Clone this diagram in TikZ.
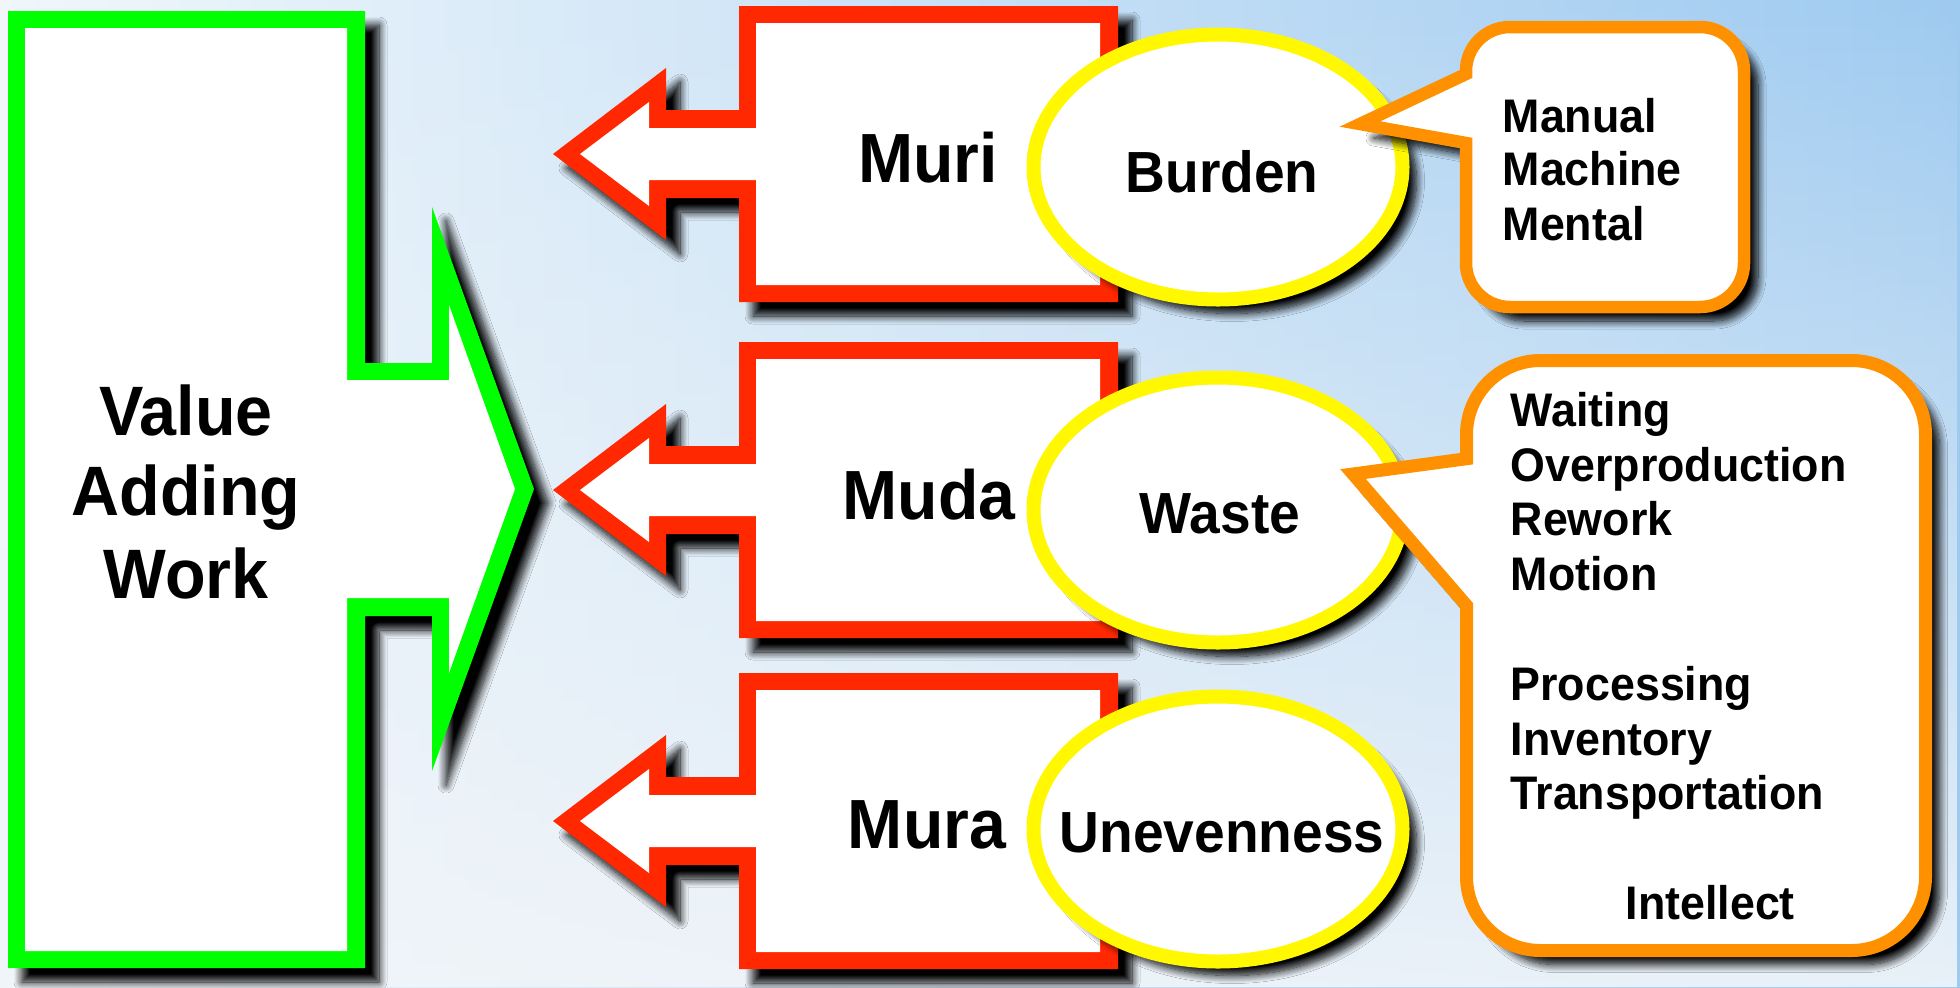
\documentclass[tikz,border=0pt]{standalone}
\usepackage{fontspec}
\newfontfamily\lab{Liberation Sans}[FakeStretch=0.95]
\usetikzlibrary{shadows.blur,fadings}

\definecolor{vgreen}{RGB}{0,255,0}
\definecolor{mred}{RGB}{255,40,0}
\definecolor{myellow}{RGB}{255,248,0}
\definecolor{morange}{RGB}{255,145,0}
\definecolor{bgleft}{RGB}{240,247,251}
\definecolor{bgmid}{RGB}{210,236,248}
\definecolor{bgright}{RGB}{158,202,240}
\definecolor{bgbottom}{RGB}{241,245,249}

\tikzfading[name=fadeup, top color=transparent!100, bottom color=transparent!10]

\tikzset{
  dropsh/.style={blur shadow={shadow xshift=0.14cm, shadow yshift=-0.14cm,
      shadow blur radius=0.08cm, shadow blur steps=12, shadow opacity=100}},
  oval/.style={draw=myellow, fill=white, line width=0.14cm, dropsh},
  callout/.style={draw=morange, fill=white, line width=0.13cm, dropsh},
  vaw/.style={font=\lab\bfseries\fontsize{19.9pt}{23pt}\selectfont, inner sep=0pt, anchor=base},
  mu/.style={font=\lab\bfseries\fontsize{19.8pt}{23pt}\selectfont, inner sep=0pt, anchor=base},
  ovtext/.style={font=\lab\bfseries\fontsize{16.5pt}{19pt}\selectfont, inner sep=0pt, anchor=base},
  item/.style={font=\lab\bfseries\fontsize{13.4pt}{15.5pt}\selectfont, inner sep=0pt, anchor=base west},
}

\begin{document}
\begin{tikzpicture}[x=0.01cm, y=-0.01cm]
\useasboundingbox (0,0) rectangle (1960,987);

% background
\fill[left color=bgleft, middle color=bgmid, right color=bgright] (0,0) rectangle (1960,987);
\fill[bgbottom, path fading=fadeup] (0,0) rectangle (1960,987);

% value adding work: box with a right-pointing arrow
\fill[vgreen, dropsh] (8,11) -- (365,11) -- (365,363) -- (432,363) -- (432,207)
  -- (534,489) -- (432,771) -- (432,616) -- (365,616) -- (365,968) -- (8,968) -- cycle;
\fill[white] (25,28) -- (347,28) -- (347,380) -- (449,380) -- (449,305)
  -- (515,489) -- (449,673) -- (449,598) -- (347,598) -- (347,951) -- (25,951) -- cycle;

% the three left-pointing arrows
\foreach \yc in {154,490,821}{
  \begin{scope}[shift={(0,\yc)}]
    \fill[mred, dropsh] (739,-148) -- (1118,-148) -- (1118,148) -- (739,148) -- (739,44)
      -- (666,44) -- (666,86) -- (553,0) -- (666,-86) -- (666,-44) -- (739,-44) -- cycle;
    \fill[white] (756,-131) -- (1100,-131) -- (1100,131) -- (756,131) -- (756,26)
      -- (649,26) -- (649,52) -- (580,0) -- (649,-52) -- (649,-26) -- (756,-26) -- cycle;
  \end{scope}
}

% ovals
\foreach \yc in {167,510,829}{
  \draw[oval] (1218,\yc) ellipse [x radius=184.5, y radius=132.5];
}

% speech bubbles
\draw[callout, line width=0.125cm] (1360,124) -- (1466,74) -- (1466,71)
  arc[start angle=180, end angle=270, radius=44] -- (1700,27)
  arc[start angle=270, end angle=360, radius=44] -- (1744,263)
  arc[start angle=0, end angle=90, radius=44] -- (1510,307)
  arc[start angle=90, end angle=180, radius=44] -- (1466,143) -- cycle;

\draw[callout] (1353,474) -- (1466.5,458.7) -- (1466.5,434.5)
  arc[start angle=180, end angle=270, radius=74] -- (1851.5,360.5)
  arc[start angle=270, end angle=360, radius=74] -- (1925.5,876.5)
  arc[start angle=0, end angle=90, radius=74] -- (1540.5,950.5)
  arc[start angle=90, end angle=180, radius=74] -- (1466.5,605.5) -- cycle;

% labels
\node[vaw] (v1) at (186,435) {Value};
\node[vaw] (v2) at (186,515) {Adding};
\node[vaw] (v3) at (186,598) {Work};

\node[mu] (muri) at (928,182) {Muri};
\node[mu] (muda) at (929,519) {Muda};
\node[mu] (mura) at (927,848) {Mura};

\node[ovtext] (burden) at (1222,192) {Burden};
\node[ovtext] (waste) at (1220,533) {Waste};
\node[ovtext] (uneven) at (1222,852) {Unevenness};

\node[item] (manual) at (1502,132) {Manual};
\node[item] (machine) at (1502,185) {Machine};
\node[item] (mental) at (1502,240) {Mental};

\node[item] (waiting) at (1510,426) {Waiting};
\node[item] (overprod) at (1510,481) {Overproduction};
\node[item] (rework) at (1510,535) {Rework};
\node[item] (motion) at (1510,590) {Motion};
\node[item] (processing) at (1510,700) {Processing};
\node[item] (inventory) at (1510,755) {Inventory};
\node[item] (transport) at (1510,809) {Transportation};
\node[item] (intellect) at (1625,919) {Intellect};
\end{tikzpicture}
\end{document}
